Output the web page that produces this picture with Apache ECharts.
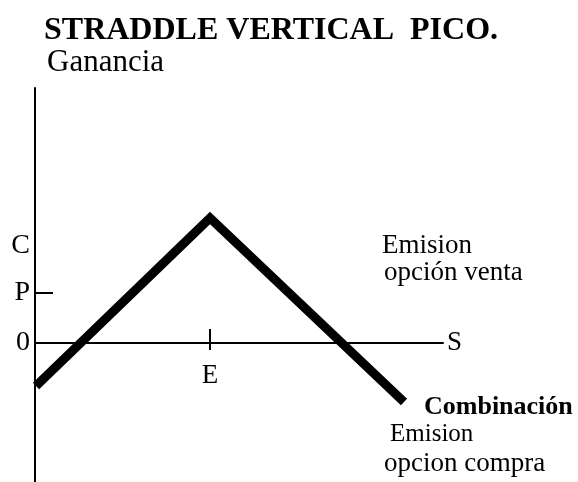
<!DOCTYPE html>
<html>
<head>
<meta charset="utf-8">
<script src="https://cdn.jsdelivr.net/npm/echarts@6/dist/echarts.min.js"></script>
<style>
html,body{margin:0;padding:0;background:#fff;}
#chart{width:578px;height:482px;}
</style>
</head>
<body>
<div id="chart"></div>
<script>
var titleText = 'STRADDLE VERTICAL  PICO.';
var yAxisName = 'Ganancia';
var xAxisName = 'S';
var payoffX = [0.1, 17.5, 36.9];
var payoffY = [-4.3, 12.5, -5.9];
var yTickValues = [0, 5.0, 9.7];
var yTickLabels = ['0', 'P', 'C'];
var yMarkedTick = [5.0];
var xTickValues = [17.5];
var xTickLabels = ['E'];
var xRange = [0, 40.8];
var yRange = [-13.9, 25.5];
var notes = ['Emision', 'opción venta', 'Combinación', 'Emision', 'opcion compra'];

var SERIF = '"Liberation Serif", "DejaVu Serif", serif';
var chart = echarts.init(document.getElementById('chart'), null, {renderer: 'canvas'});

var lineData = payoffX.map(function (x, i) { return [x, payoffY[i]]; });

var option = {
  animation: false,
  backgroundColor: '#fff',
  title: {
    text: titleText,
    left: 44,
    top: 15,
    padding: 0,
    textStyle: {fontFamily: SERIF, fontSize: 32, fontWeight: 'bold', color: '#000'}
  },
  grid: {left: 35, right: 578 - 35 - 408, top: 88, bottom: 0, containLabel: false, outerBoundsMode: 'none'},
  xAxis: {
    type: 'value',
    min: xRange[0], max: xRange[1],
    name: xAxisName,
    nameLocation: 'end',
    nameGap: 4,
    nameTextStyle: {fontFamily: SERIF, fontSize: 27, color: '#000', verticalAlign: 'middle'},
    axisLine: {show: true, onZero: true, lineStyle: {color: '#000', width: 2}},
    axisTick: {show: false},
    splitLine: {show: false},
    axisLabel: {show: false}
  },
  yAxis: {
    type: 'value',
    min: yRange[0], max: yRange[1],
    name: yAxisName,
    nameLocation: 'end',
    nameGap: 10,
    nameTextStyle: {fontFamily: SERIF, fontSize: 31, color: '#000', align: 'left', padding: [0, 0, 0, 12]},
    axisLine: {show: true, onZero: false, lineStyle: {color: '#000', width: 2}},
    axisTick: {show: true, inside: true, length: 18, customValues: yMarkedTick, lineStyle: {color: '#000', width: 2}},
    splitLine: {show: false},
    axisLabel: {
      customValues: yTickValues,
      margin: 5,
      fontFamily: SERIF, fontSize: 28, color: '#000',
      formatter: function (v) { var i = yTickValues.indexOf(v); return i >= 0 ? yTickLabels[i] : ''; }
    }
  },
  series: [
    {
      type: 'line',
      data: lineData,
      symbol: 'none',
      silent: true,
      lineStyle: {color: '#000', width: 9, cap: 'butt', join: 'miter'},
      markLine: {
        silent: true,
        symbol: 'none',
        lineStyle: {color: '#000', width: 2, type: 'solid'},
        label: {
          show: true, position: 'end', distance: 12,
          fontFamily: SERIF, fontSize: 27, color: '#000',
          formatter: function () { return xTickLabels[0]; }
        },
        data: [[{coord: [xTickValues[0], 1.4]}, {coord: [xTickValues[0], -0.7]}]]
      }
    }
  ],
  graphic: [
    {type: 'text', left: 382, top: 232, style: {text: notes[0], font: '27px ' + SERIF, fill: '#000'}},
    {type: 'text', left: 384, top: 259, style: {text: notes[1], font: '27px ' + SERIF, fill: '#000'}},
    {type: 'text', left: 424, top: 394, style: {text: notes[2], font: 'bold 26px ' + SERIF, fill: '#000'}},
    {type: 'text', left: 390, top: 422, style: {text: notes[3], font: '25px ' + SERIF, fill: '#000'}},
    {type: 'text', left: 384, top: 450, style: {text: notes[4], font: '27px ' + SERIF, fill: '#000'}}
  ]
};
chart.setOption(option);
</script>
</body>
</html>
